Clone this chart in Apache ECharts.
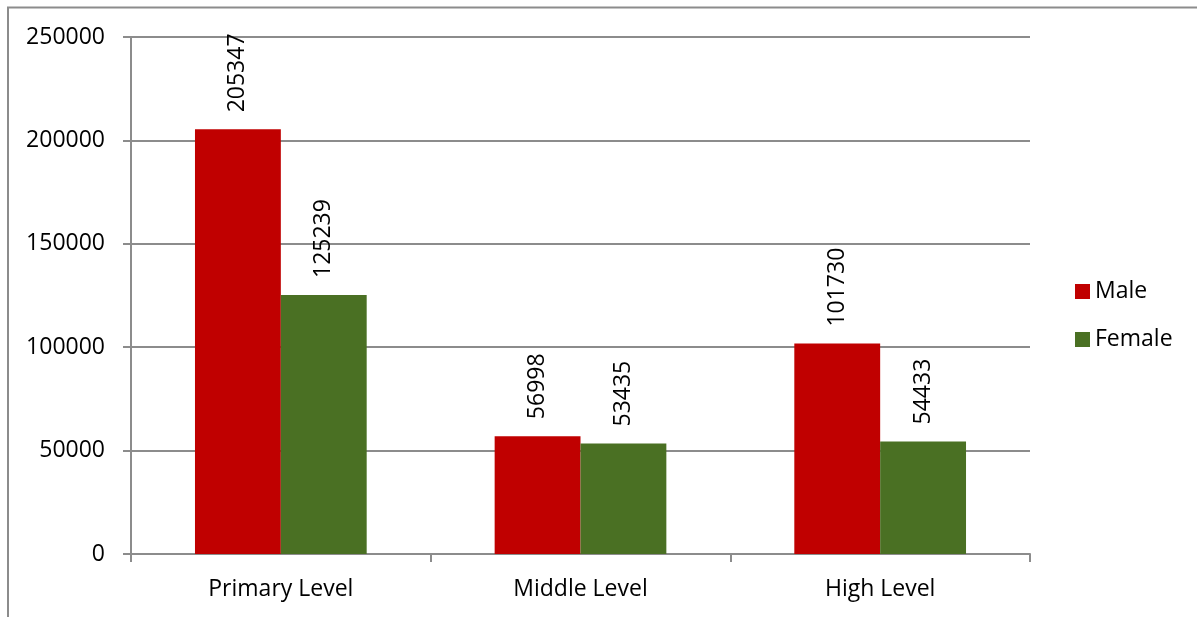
<!DOCTYPE html>
<html>
<head>
<meta charset="utf-8">
<style>
  html, body { margin: 0; padding: 0; background: #ffffff; }
  #chart { width: 1197px; height: 617px; }
</style>
<script src="https://cdn.jsdelivr.net/npm/echarts@6/dist/echarts.min.js"></script>
</head>
<body>
<div id="chart"></div>
<script>
// Enrolment by level and sex
const categories = ['Primary Level', 'Middle Level', 'High Level'];
const maleValues = [205347, 56998, 101730];
const femaleValues = [125239, 53435, 54433];
const seriesNames = ['Male', 'Female'];

const FONT = '"Open Sans", sans-serif';
const FONT_SIZE = 23;
const GRID_COLOR = '#8c8c8c';

const chart = echarts.init(document.getElementById('chart'), null, { renderer: 'canvas' });

const labelStyle = {
  show: true,
  position: 'top',
  rotate: 90,
  align: 'left',
  verticalAlign: 'middle',
  distance: 17,
  fontFamily: FONT,
  fontSize: FONT_SIZE,
  color: '#000000'
};

chart.setOption({
  animation: false,
  graphic: [{
    type: 'polyline',
    shape: { points: [[8, 617], [8, 7.5], [1197, 7.5]] },
    style: { stroke: '#8c8c8c', lineWidth: 2, fill: null },
    silent: true
  }],
  legend: {
    orient: 'vertical',
    left: 1070,
    top: 275,
    itemWidth: 15,
    itemHeight: 15,
    itemGap: 25,
    icon: 'rect',
    textStyle: { fontFamily: FONT, fontSize: FONT_SIZE, color: '#000000' },
    data: seriesNames
  },
  grid: {
    left: 131,
    right: 167,
    top: 37,
    bottom: 63,
    containLabel: false
  },
  xAxis: {
    type: 'category',
    data: categories,
    axisLine: { show: true, lineStyle: { color: GRID_COLOR, width: 2 } },
    axisTick: { show: true, alignWithLabel: false, length: 8, lineStyle: { color: GRID_COLOR, width: 2 } },
    axisLabel: { fontFamily: FONT, fontSize: FONT_SIZE, color: '#000000', margin: 24 }
  },
  yAxis: {
    type: 'value',
    min: 0,
    max: 250000,
    interval: 50000,
    axisLine: { show: true, lineStyle: { color: GRID_COLOR, width: 2 } },
    axisTick: { show: true, length: 8, lineStyle: { color: GRID_COLOR, width: 2 } },
    splitLine: { show: true, lineStyle: { color: GRID_COLOR, width: 2 } },
    axisLabel: {
      fontFamily: FONT,
      fontSize: FONT_SIZE,
      color: '#000000',
      margin: 26,
      formatter: (v) => String(v)
    }
  },
  series: [
    {
      name: seriesNames[0],
      type: 'bar',
      data: maleValues,
      barGap: '0%',
      barCategoryGap: '42.7%',
      itemStyle: { color: '#c00000' },
      label: labelStyle
    },
    {
      name: seriesNames[1],
      type: 'bar',
      data: femaleValues,
      barGap: '0%',
      barCategoryGap: '42.7%',
      itemStyle: { color: '#4a7023' },
      label: labelStyle
    }
  ]
});
</script>
</body>
</html>
